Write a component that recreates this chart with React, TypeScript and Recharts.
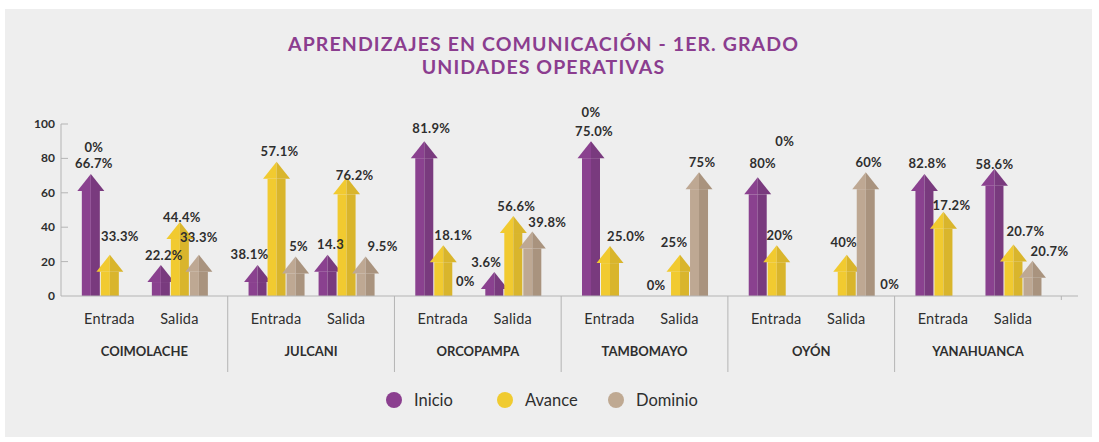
import React from "react";
import { BarChart, Bar, XAxis, YAxis, LabelList } from "recharts";

// unidades operativas y fases
const units = ["COIMOLACHE", "JULCANI", "ORCOPAMPA", "TAMBOMAYO", "OYÓN", "YANAHUANCA"];
const phases = ["Entrada", "Salida"];

// alturas de las flechas (eje 0-100)
const inicio = [71, 18, 18, 24, 90, 14, 90, 0, 69, 0, 71, 74];
const avance = [24, 43, 78, 69, 29.5, 46.5, 29, 24, 29.5, 24, 49, 30];
const dominio = [0, 24, 23, 23, 0, 37.5, 0, 72, 0, 72, 0, 20.5];

// textos que acompañan cada flecha
const inicioLabel = ["66.7%", "22.2%", "38.1%", "14.3", "81.9%", "3.6%", "75.0%", "0%", "80%", "0%", "82.8%", "58.6%"];
const avanceLabel = ["33.3%", "44.4%", "57.1%", "76.2%", "18.1%", "56.6%", "25.0%", "25%", "20%", "40%", "17.2%", "20.7%"];
const dominioLabel = ["0%", "33.3%", "5%", "9.5%", "0%", "39.8%", "0%", "75%", "0%", "60%", "", "20.7%"];

const yTicks = [0, 20, 40, 60, 80, 100];

const series = [
  { key: "inicio", name: "Inicio", light: "#8a418f", dark: "#793a7e", dot: "#8b3f8f" },
  { key: "avance", name: "Avance", light: "#f1ca30", dark: "#d9b52c", dot: "#f0cb30" },
  { key: "dominio", name: "Dominio", light: "#bea893", dark: "#a9937e", dot: "#bfa992" },
];

// layout of the numeric x axis: each unit takes GROUP units, entrada/salida inside it
const GROUP = 5;
const E_AT = 1.45;
const S_AT = 3.55;
const X_MAX = 30.5;
const PLOT_LEFT = 61;
const PLOT_RIGHT = 1078;
const UNIT_PX = (PLOT_RIGHT - PLOT_LEFT) / X_MAX;

const AXIS = "#b4b4b4";
const TEXT = "#2e2e2e";
const FONT = "Lato, 'Noto Sans', sans-serif";

const table = units.flatMap((unit, gi) =>
  phases.map((fase, fi) => {
    const i = gi * 2 + fi;
    return {
      pos: gi * GROUP + (fi === 0 ? E_AT : S_AT),
      unit,
      fase,
      gi,
      fi,
      inicio: inicio[i],
      avance: avance[i],
      dominio: dominio[i],
      inicioLabel: inicioLabel[i],
      avanceLabel: avanceLabel[i],
      dominioLabel: dominioLabel[i],
    };
  })
);

// label nudges where the original moved them away from the arrow tip
const labelShift: Record<string, [number, number]> = {
  "inicio-2": [-8, -11],
  "inicio-4": [7, -13],
  "inicio-5": [-8, -9],
  "inicio-7": [-5, -11],
  "inicio-8": [5, -14],
  "inicio-9": [62, -12],
  "inicio-11": [0, -4],
  "avance-0": [10, -18],
  "avance-1": [2, -5],
  "avance-3": [8, -2],
  "avance-4": [10, -10],
  "avance-6": [16, -10],
  "avance-7": [-6, -12],
  "avance-9": [-3, -12],
  "avance-10": [8, -6],
  "avance-11": [12, -13],
  "dominio-0": [-35, -149],
  "dominio-1": [0, -17],
  "dominio-3": [17, -10],
  "dominio-4": [3, -15],
  "dominio-5": [15, -9],
  "dominio-6": [-38, -184],
  "dominio-8": [-11, -155],
  "dominio-11": [17, -9],
};

const BODY_W = 18;
const HEAD_W = 27;
const HEAD_H = 17;

const arrowShape = (light: string, dark: string) => (p: any) => {
  const { x, y, width, height } = p;
  if (!height || height <= 0) return <g />;
  const cx = x + width / 2;
  const hh = Math.min(HEAD_H, height);
  const neck = y + hh;
  const bottom = y + height;
  const bw = BODY_W / 2;
  const hw = HEAD_W / 2;
  return (
    <g>
      <rect x={cx - bw} y={neck} width={bw} height={bottom - neck} fill={light} />
      <rect x={cx} y={neck} width={bw} height={bottom - neck} fill={dark} />
      <polygon points={`${cx},${y} ${cx - hw},${neck} ${cx},${neck}`} fill={light} />
      <polygon points={`${cx},${y} ${cx + hw},${neck} ${cx},${neck}`} fill={dark} />
    </g>
  );
};

const labelContent = (key: string) => (p: any) => {
  const text = p.value;
  if (!text) return null;
  const [dx, dy] = labelShift[`${key}-${p.index}`] ?? [3, -10];
  const cx = p.x + p.width / 2 + dx;
  const cy = p.y + dy;
  return (
    <text
      x={cx}
      y={cy + 4.5}
      textAnchor="middle"
      fontSize={13}
      fontWeight={700}
      letterSpacing={0.3}
      fill={TEXT}
      fontFamily={FONT}
    >
      {text}
    </text>
  );
};

const nearestRow = (v: number) =>
  table.reduce((best, r) => (Math.abs(r.pos - v) < Math.abs(best.pos - v) ? r : best), table[0]);

const renderPhaseTick = (p: any) => {
  const row = nearestRow(p.payload.value);
  const groupCenter = p.x + (row.gi * GROUP + GROUP / 2 - row.pos) * UNIT_PX;
  const groupRight = p.x + (row.gi * GROUP + GROUP - row.pos) * UNIT_PX;
  const last = row.gi === units.length - 1;
  return (
    <g fontFamily={FONT} fill={TEXT}>
      <text x={p.x} y={p.y + 28} textAnchor="middle" fontSize={14.5} fontWeight={400} letterSpacing={0.2}>
        {row.fase}
      </text>
      {row.fi === 1 && (
        <text x={groupCenter} y={p.y + 60} textAnchor="middle" fontSize={13} fontWeight={700}>
          {row.unit}
        </text>
      )}
      {row.fi === 1 && !last && (
        <line x1={groupRight} x2={groupRight} y1={p.y} y2={p.y + 76} stroke={AXIS} />
      )}
      {row.fi === 1 && last && <line x1={groupRight} x2={groupRight} y1={p.y} y2={p.y + 4} stroke={AXIS} />}
    </g>
  );
};

const renderValueTick = (p: any) => (
  <g>
    <text x={p.x} y={p.y + 4} textAnchor="end" fontSize={12} fontWeight={700} fill={TEXT} fontFamily={FONT}>
      {p.payload.value}
    </text>
    {p.payload.value > 0 && <line x1={p.x + 6} x2={p.x + 13} y1={p.y} y2={p.y} stroke={AXIS} />}
  </g>
);

export default function App() {
  return (
    <div style={{ position: "absolute", left: 0, top: 0, width: 1099, height: 442, background: "#ffffff", fontFamily: FONT }}>
      <div style={{ position: "absolute", left: 5, top: 9, width: 1087, height: 428, background: "#eeeeee" }} />
      <div
        style={{
          position: "absolute",
          left: 0,
          top: 32,
          width: 1087,
          textAlign: "center",
          color: "#8b3d8f",
          fontWeight: 700,
          fontSize: 19.5,
          letterSpacing: 1.1,
          lineHeight: "23px",
        }}
      >
        <div>APRENDIZAJES EN COMUNICACIÓN - 1ER. GRADO</div>
        <div>UNIDADES OPERATIVAS</div>
      </div>
      <div style={{ position: "absolute", left: 0, top: 0 }}>
        <BarChart
          width={1099}
          height={442}
          data={table}
          margin={{ top: 124, right: 21, bottom: 66, left: 0 }}
          barGap={0}
          barSize={19}
        >
          <XAxis
            type="number"
            dataKey="pos"
            domain={[0, X_MAX]}
            ticks={table.map((r) => r.pos)}
            interval={0}
            tick={renderPhaseTick}
            tickLine={false}
            tickSize={0}
            tickMargin={0}
            axisLine={{ stroke: AXIS }}
            height={80}
          />
          <YAxis
            type="number"
            domain={[0, 100]}
            ticks={yTicks}
            interval={0}
            width={61}
            tickLine={false}
            tickSize={0}
            tickMargin={6}
            axisLine={{ stroke: AXIS }}
            tick={renderValueTick}
          />
          {series.map((s) => (
            <Bar key={s.key} dataKey={s.key} name={s.name} isAnimationActive={false} shape={arrowShape(s.light, s.dark)}>
              <LabelList dataKey={`${s.key}Label`} content={labelContent(s.key)} />
            </Bar>
          ))}
        </BarChart>
      </div>
      <div style={{ position: "absolute", left: 386, top: 392, display: "flex" }}>
        {series.map((s) => (
          <div key={s.key} style={{ width: 111, display: "flex", alignItems: "center", height: 16 }}>
            <span style={{ width: 16, height: 16, borderRadius: 8, background: s.dot, marginRight: 12, flex: "none" }} />
            <span style={{ fontSize: 16.5, color: TEXT, lineHeight: "16px" }}>{s.name}</span>
          </div>
        ))}
      </div>
    </div>
  );
}
